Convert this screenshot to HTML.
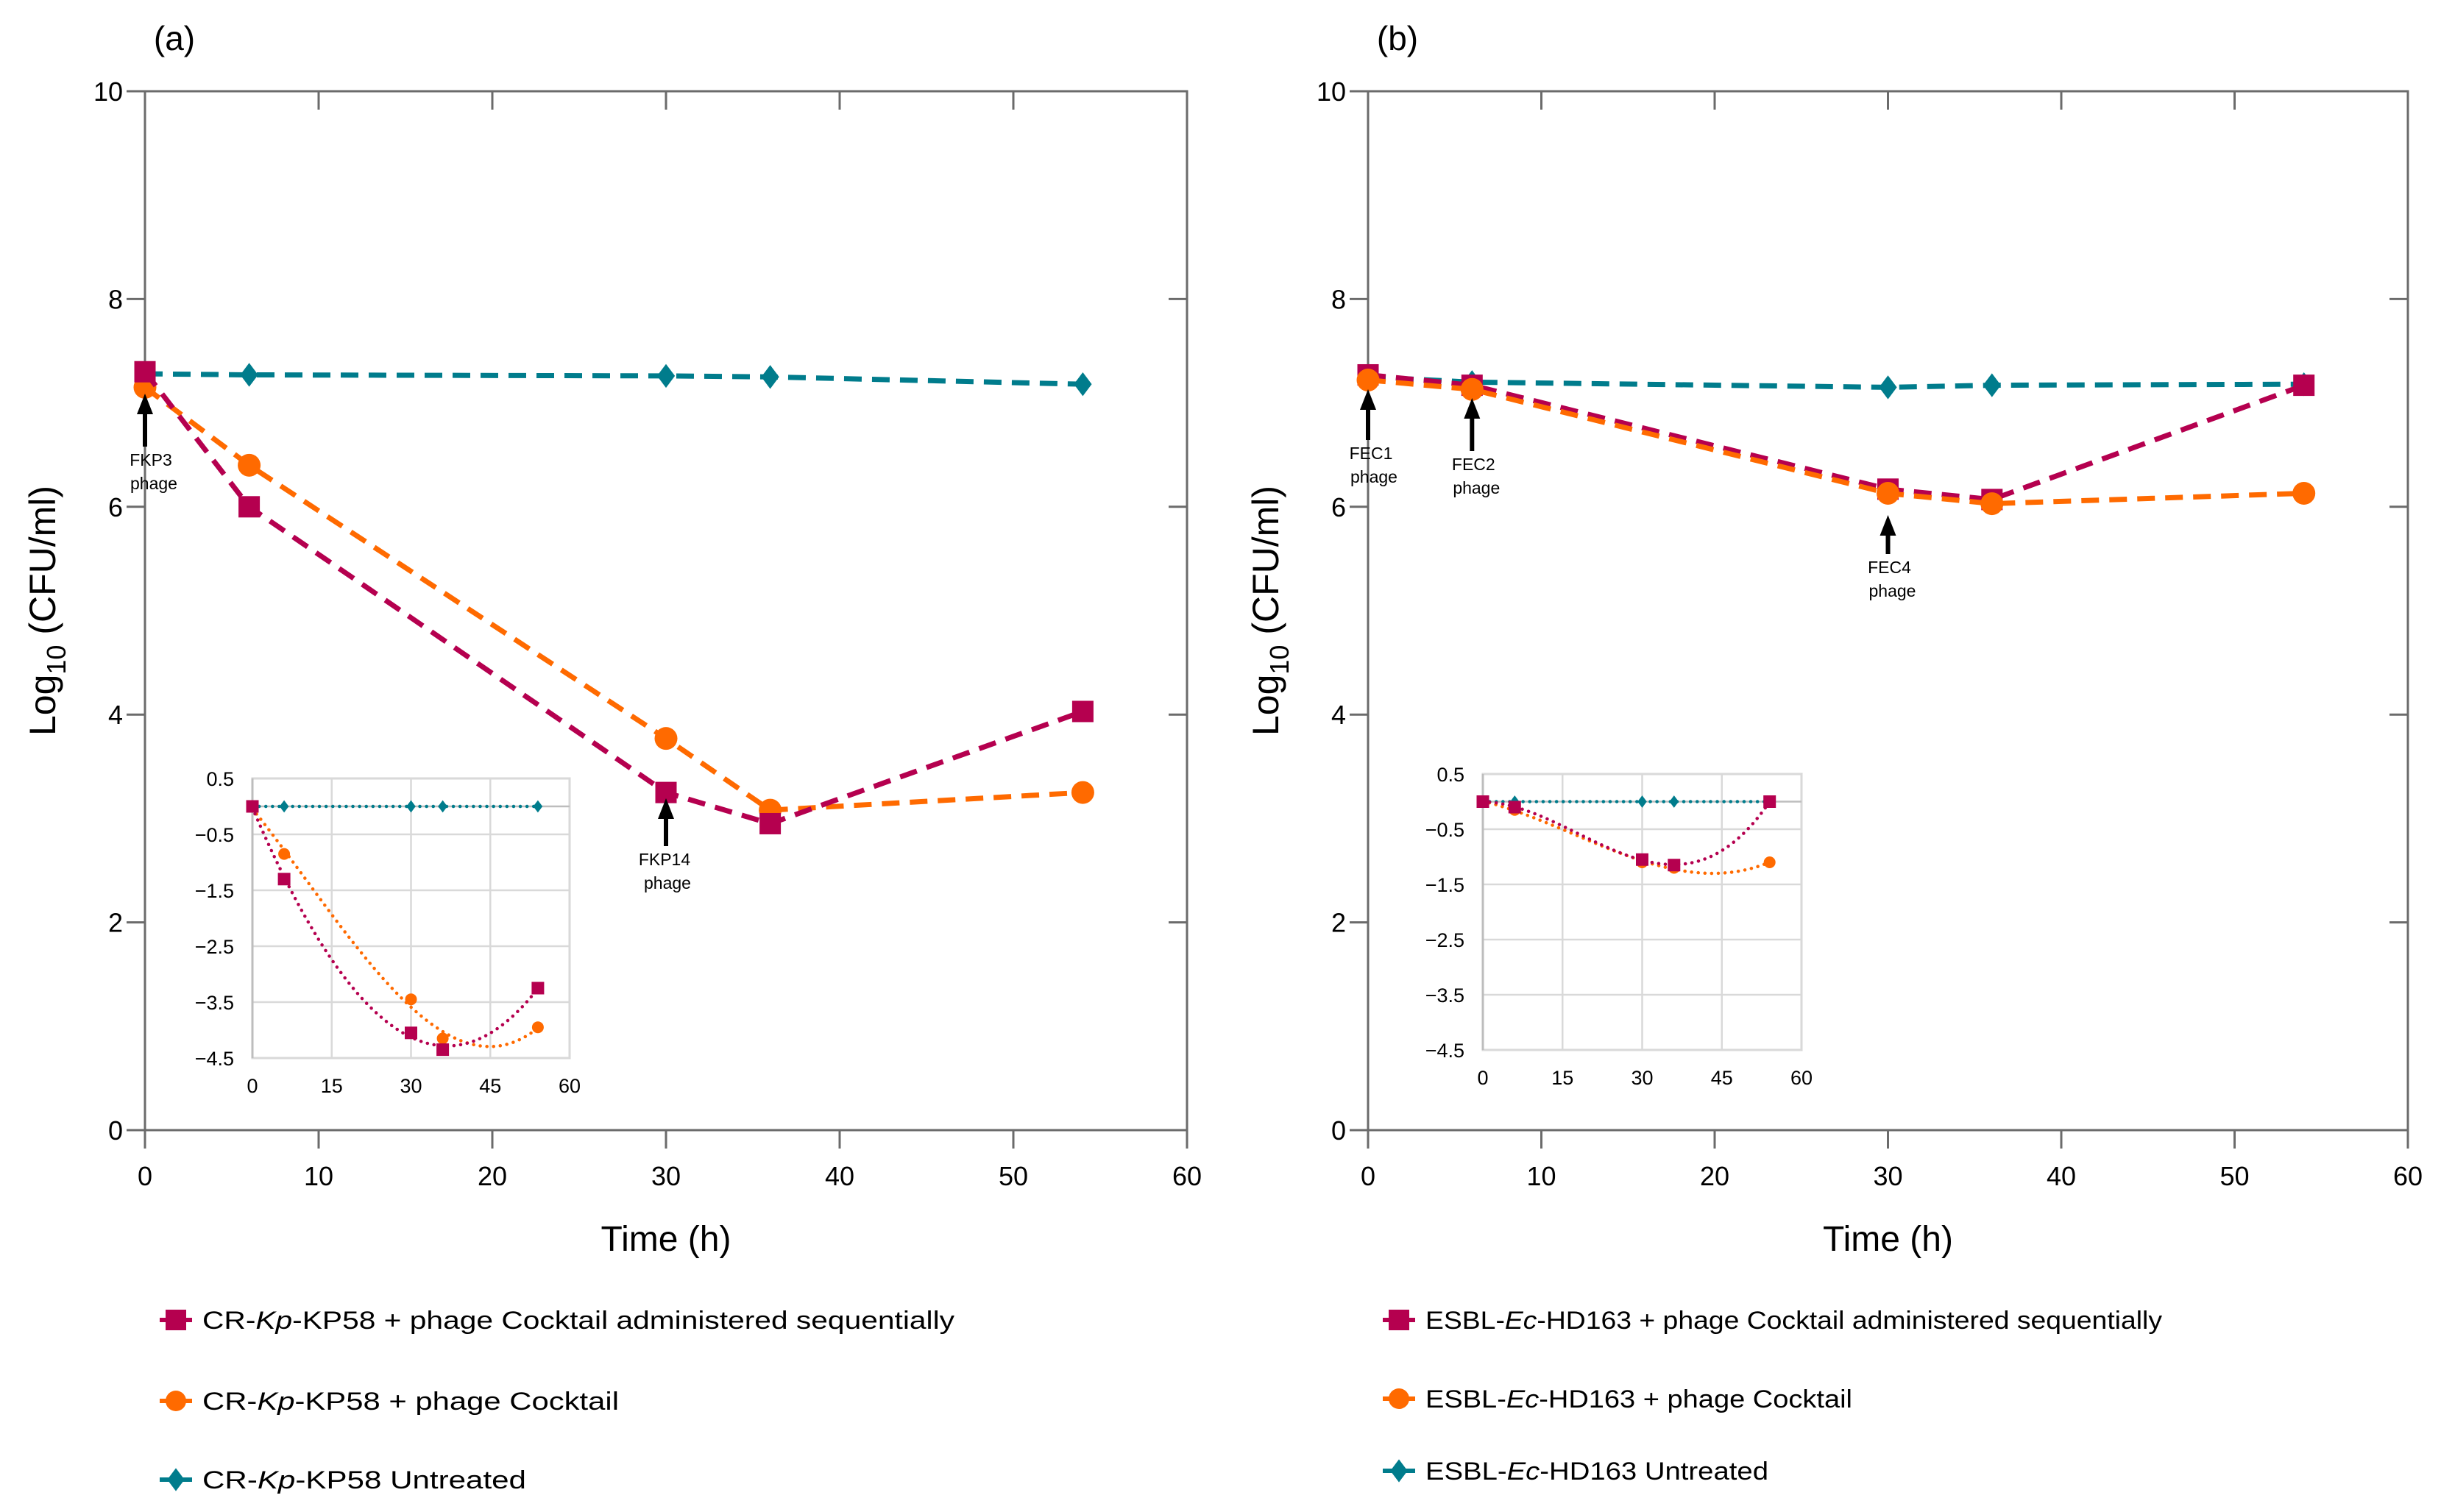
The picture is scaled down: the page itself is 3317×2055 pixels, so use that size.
<!DOCTYPE html>
<html><head><meta charset="utf-8"><style>
html,body{margin:0;padding:0;background:#fff}
svg{display:block;font-family:"Liberation Sans",Arial,sans-serif}
</style></head><body>
<svg id="chart" width="3317" height="2055" viewBox="0 0 3317 2055" xmlns="http://www.w3.org/2000/svg"></svg>
<script>
const times = [0, 6, 30, 36, 54];
const aSeq = [7.30, 6.00, 3.25, 2.95, 4.03];
const aCock = [7.15, 6.40, 3.77, 3.08, 3.25];
const aUnt = [7.28, 7.27, 7.26, 7.25, 7.18];
const bSeq = [7.27, 7.17, 6.17, 6.07, 7.17];
const bCock = [7.22, 7.13, 6.13, 6.03, 6.13];
const bUnt = [7.25, 7.20, 7.15, 7.17, 7.18];
const aInSeq = [0, -1.30, -4.05, -4.35, -3.25];
const aInCock = [0, -0.85, -3.45, -4.15, -3.95];
const aInUnt = [0, 0, 0, 0, 0];
const bInSeq = [0, -0.10, -1.05, -1.15, 0];
const bInCock = [0, -0.15, -1.10, -1.20, -1.10];
const bInUnt = [0, 0, 0, 0, 0];
const xTicks = [0, 10, 20, 30, 40, 50, 60];
const yTicks = [0, 2, 4, 6, 8, 10];
const inXTicks = [0, 15, 30, 45, 60];
const inYTicks = [0.5, -0.5, -1.5, -2.5, -3.5, -4.5];
const legendA = ["CR-|Kp|-KP58 + phage Cocktail administered sequentially", "CR-|Kp|-KP58 + phage Cocktail", "CR-|Kp|-KP58 Untreated"];
const legendB = ["ESBL-|Ec|-HD163 + phage Cocktail administered sequentially", "ESBL-|Ec|-HD163 + phage Cocktail", "ESBL-|Ec|-HD163 Untreated"];

const C = {seq:"#b5004f", cock:"#ff6a00", unt:"#007c8c", ax:"#6b6b6b"};
const svg = document.getElementById('chart');
const NS = "http://www.w3.org/2000/svg";
function mk(tag, attrs, parent, name){
  const e = document.createElementNS(NS, tag);
  for (const k in attrs) e.setAttribute(k, attrs[k]);
  
  
  (parent||svg).appendChild(e); return e;
}
function txt(x,y,s,size,anchor,parent,name,extra){
  const t = mk('text', Object.assign({x:x,y:y,'font-size':size,'text-anchor':anchor||'middle',fill:'#000'}, extra||{}), parent, name);
  t.textContent = s; return t;
}
function marker(kind, x, y, s, col, g, name){
  if(kind==='sq') return mk('rect',{x:x-s/2,y:y-s/2,width:s,height:s,fill:col},g,name);
  if(kind==='ci') return mk('circle',{cx:x,cy:y,r:s/2,fill:col},g,name);
  return mk('polygon',{points:`${x},${y-s*0.6} ${x+s*0.45},${y} ${x},${y+s*0.6} ${x-s*0.45},${y}`,fill:col},g,name);
}
function fit(xs, ys, deg){
  const n=deg+1, A=[];
  for(let i=0;i<n;i++){A.push([]);for(let j=0;j<=n;j++)A[i].push(0);}
  xs.forEach((x,k)=>{for(let i=0;i<n;i++){for(let j=0;j<n;j++)A[i][j]+=Math.pow(x,i+j);A[i][n]+=ys[k]*Math.pow(x,i);}});
  for(let i=0;i<n;i++){let p=i;for(let r=i+1;r<n;r++)if(Math.abs(A[r][i])>Math.abs(A[p][i]))p=r;[A[i],A[p]]=[A[p],A[i]];
    for(let r=0;r<n;r++){if(r===i)continue;const f=A[r][i]/A[i][i];for(let c=i;c<=n;c++)A[r][c]-=f*A[i][c];}}
  const co=[];for(let i=0;i<n;i++)co.push(A[i][n]/A[i][i]);
  return x=>co.reduce((s,c,i)=>s+c*Math.pow(x,i),0);
}

function panel(p){
  const g = mk('g',{},svg,'panel-'+p.id);
  const X = v => p.x0 + v*(p.x1-p.x0)/60;
  const Y = v => 1536 - v*141.2;
  txt(p.x0+40, 68, '('+p.id+')', 46, 'middle', g, 'panel-label');
  mk('rect',{x:X(0),y:Y(10),width:X(60)-X(0),height:Y(0)-Y(10),fill:'none',stroke:C.ax,'stroke-width':3},g,'plot-frame');
  xTicks.forEach(t=>{
    mk('line',{x1:X(t),x2:X(t),y1:Y(0),y2:Y(0)+25,stroke:C.ax,'stroke-width':3},g,'x-tick');
    if(t>0&&t<60) mk('line',{x1:X(t),x2:X(t),y1:Y(10),y2:Y(10)+25,stroke:C.ax,'stroke-width':3},g,'x-tick-top');
    txt(X(t), Y(0)+75, String(t), 36, 'middle', g, 'x-tick-label');
  });
  yTicks.forEach(t=>{
    mk('line',{x1:X(0)-25,x2:X(0),y1:Y(t),y2:Y(t),stroke:C.ax,'stroke-width':3},g,'y-tick');
    if(t>0&&t<10) mk('line',{x1:X(60)-25,x2:X(60),y1:Y(t),y2:Y(t),stroke:C.ax,'stroke-width':3},g,'y-tick-right');
    txt(X(0)-30, Y(t)+13, String(t), 36, 'end', g, 'y-tick-label');
  });
  txt((X(0)+X(60))/2, 1700, 'Time (h)', 48, 'middle', g, 'x-axis-title');
  const yt = txt(0,0,'',50,'middle',g,'y-axis-title',{transform:`translate(${X(0)-122},${Y(5)}) rotate(-90)`});
  yt.innerHTML = 'Log<tspan font-size="36" dy="14">10</tspan><tspan dy="-14"> (CFU/ml)</tspan>';
  const ser = [[p.unt,C.unt,'di','untreated'],[p.cock,C.cock,'ci','cocktail'],[p.seq,C.seq,'sq','sequential']];
  const order = p.id==='a' ? [0,1,2] : [0,2,1];
  order.forEach(i=>{
    const [vals,col,kind,nm]=ser[i];
    const sg = mk('g',{},g,'series-'+nm);
    mk('polyline',{points:times.map((t,k)=>X(t)+','+Y(vals[k])).join(' '),fill:'none',stroke:col,'stroke-width':7,'stroke-dasharray':'24 14'},sg,'line-'+nm);
    times.forEach((t,k)=>marker(kind,X(t),Y(vals[k]),kind==='sq'?29:(kind==='ci'?31:27),col,sg,'point-'+nm));
  });
  p.arrows.forEach(a=>{
    const ag = mk('g',{},g,'phage-annotation');
    const x = X(a.t);
    mk('line',{x1:x,x2:x,y1:a.tip+22,y2:a.base,stroke:'#000','stroke-width':6},ag,'arrow-shaft');
    mk('polygon',{points:`${x},${a.tip} ${x-11},${a.tip+28} ${x+11},${a.tip+28}`,fill:'#000'},ag,'arrow-head');
    txt(x+a.dx, a.base+26, a.label, 23, 'middle', ag, 'arrow-label');
    txt(x+a.dx+4, a.base+58, 'phage', 23, 'middle', ag, 'arrow-label-phage');
  });
  const ig = mk('g',{},g,'inset-chart');
  const IX = v => p.in.l + v*(p.in.r-p.in.l)/60;
  const IY = v => p.in.t + (0.5-v)*(p.in.b-p.in.t)/5;
  mk('rect',{x:p.in.l,y:p.in.t,width:p.in.r-p.in.l,height:p.in.b-p.in.t,fill:'#fff',stroke:'#d4d4d4','stroke-width':3},ig,'inset-frame');
  inXTicks.forEach(t=>{
    mk('line',{x1:IX(t),x2:IX(t),y1:IY(0.5),y2:IY(-4.5),stroke:'#d9d9d9','stroke-width':2.5},ig,'inset-grid-x');
    txt(IX(t), p.in.b+47, String(t), 27, 'middle', ig, 'inset-x-label');
  });
  inYTicks.forEach(t=>{
    mk('line',{x1:IX(0),x2:IX(60),y1:IY(t),y2:IY(t),stroke:'#d9d9d9','stroke-width':2.5},ig,'inset-grid-y');
    txt(IX(0)-25, IY(t)+10, (t<0?'\u2212':'')+Math.abs(t).toFixed(1), 27, 'end', ig, 'inset-y-label');
  });
  mk('line',{x1:IX(0),x2:IX(60),y1:IY(0),y2:IY(0),stroke:'#bdbdbd','stroke-width':2.5},ig,'inset-zero-line');
  mk('line',{x1:IX(0),x2:IX(0),y1:IY(0.5),y2:IY(-4.5),stroke:'#bdbdbd','stroke-width':3},ig,'inset-y-axis');
  const iser = [[p.iUnt,C.unt,'di','untreated'],[p.iCock,C.cock,'ci','cocktail'],[p.iSeq,C.seq,'sq','sequential']];
  iser.forEach(([vals,col,kind,nm])=>{
    const f = fit(times, vals, 3);
    const pts=[]; for(let t=0;t<=54;t+=0.5) pts.push(IX(t)+','+IY(f(t)));
    mk('polyline',{points:pts.join(' '),fill:'none',stroke:col,'stroke-width':4.5,'stroke-dasharray':'0.1 9','stroke-linecap':'round'},ig,'inset-trend-'+nm);
  });
  iser.forEach(([vals,col,kind,nm])=>{
    times.forEach((t,k)=>marker(kind,IX(t),IY(vals[k]),kind==='sq'?17:(kind==='ci'?16:14),col,ig,'inset-point-'+nm));
  });
  const lg = mk('g',{},g,'legend');
  const cols=[C.seq,C.cock,C.unt], kinds=['sq','ci','di'];
  p.legend.forEach((s,i)=>{
    const eg = mk('g',{},lg,'legend-entry');
    const y = p.legY[i];
    mk('line',{x1:p.legX-22,x2:p.legX+22,y1:y,y2:y,stroke:cols[i],'stroke-width':6},eg,'legend-line');
    marker(kinds[i],p.legX,y,kinds[i]==='di'?26:28,cols[i],eg,'legend-marker');
    const parts=s.split('|');
    const t = txt(p.legX+36, y+12, '', 34, 'start', eg, 'legend-text',{textLength:p.legW[i],lengthAdjust:'spacingAndGlyphs'});
    t.innerHTML = parts[0]+'<tspan font-style="italic">'+parts[1]+'</tspan>'+parts[2];
  });
}
panel({id:'a',x0:197,x1:1613,seq:aSeq,cock:aCock,unt:aUnt,iSeq:aInSeq,iCock:aInCock,iUnt:aInUnt,
  in:{l:343,r:774,t:1058,b:1438},
  arrows:[{t:0,tip:535,base:607,label:'FKP3',dx:8},{t:30,tip:1085,base:1150,label:'FKP14',dx:-2}],
  legend:legendA,legX:239,legY:[1794,1904,2011],legW:[1022,566,440]});
panel({id:'b',x0:1859,x1:3272,seq:bSeq,cock:bCock,unt:bUnt,iSeq:bInSeq,iCock:bInCock,iUnt:bInUnt,
  in:{l:2015,r:2448,t:1052,b:1427},
  arrows:[{t:0,tip:529,base:598,label:'FEC1',dx:4},{t:6,tip:541,base:613,label:'FEC2',dx:2},{t:30,tip:700,base:753,label:'FEC4',dx:2}],
  legend:legendB,legX:1901,legY:[1794,1901,1999],legW:[1001,580,466]});
</script>
</body></html>
